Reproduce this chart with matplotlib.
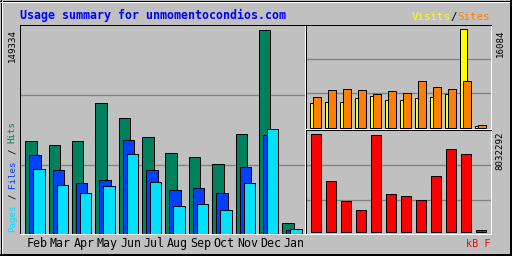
import numpy as np
import matplotlib
matplotlib.use('Agg')
import matplotlib.pyplot as plt
from matplotlib import transforms
from matplotlib.patches import Rectangle

# data
months = ['Feb', 'Mar', 'Apr', 'May', 'Jun', 'Jul', 'Aug', 'Sep', 'Oct', 'Nov', 'Dec', 'Jan']
hits = [67960, 65030, 67960, 95820, 84820, 70890, 59160, 56230, 51100, 73090, 149334, 7840]
files = [57700, 46700, 37170, 39370, 68690, 46700, 32040, 33500, 29840, 48900, 72360, 2710]
pages = [47430, 35700, 29840, 34970, 58430, 37900, 20310, 21770, 17380, 37170, 76760, 3450]
visits = [4025, 4188, 4188, 4840, 5166, 4514, 4514, 4840, 5003, 5492, 16084, 277]
sites = [5003, 6143, 6306, 6143, 5492, 5981, 5655, 7610, 6632, 6306, 7610, 440]
kbytes = [8032292, 4180000, 2541000, 1803000, 7950000, 3115000, 2951000, 2623000, 4590000, 6803000, 6393000, 164000]
title = 'Usage summary for unmomentocondios.com'

BG = '#C0C0C0'
GRID = '#808080'
C_HITS, C_FILES, C_PAGES = '#00805C', '#0040FF', '#00E0FF'
C_VISITS, C_SITES, C_KB = '#FFFF00', '#FF8000', '#FF0000'
MONO = 'DejaVu Sans Mono'
W, H = 512, 256
LW = 0.72  # one pixel at 100 dpi

fig = plt.figure(figsize=(W / 100, H / 100), dpi=100, facecolor=BG)

# pixel-coordinate background layer
bg = fig.add_axes([0, 0, 1, 1], zorder=-1)
bg.set_xlim(0, W)
bg.set_ylim(H, 0)
bg.axis('off')
bg.add_patch(Rectangle((0, 0), W, H, color=BG))
bg.plot([0, W], [0.5, 0.5], color='black', lw=LW)
bg.plot([0.5, 0.5], [0, H], color='black', lw=LW)
bg.plot([1, W - 2], [1.5, 1.5], color='white', lw=LW)
bg.plot([1.5, 1.5], [1, H - 2], color='white', lw=LW)
bg.plot([2, W - 2], [H - 2.5, H - 2.5], color=GRID, lw=LW)
bg.plot([W - 2.5, W - 2.5], [2, H - 2], color=GRID, lw=LW)
bg.plot([0, W], [H - 1, H - 1], color='black', lw=2 * LW)
bg.plot([W - 1, W - 1], [0, H], color='black', lw=2 * LW)


def px_axes(left, top, right, bottom):
    ax = fig.add_axes([left / W, 1 - bottom / H, (right - left) / W, (bottom - top) / H])
    ax.set_facecolor(BG)
    for side in ['left', 'top']:
        ax.spines[side].set_color('black')
    for side in ['right', 'bottom']:
        ax.spines[side].set_color('white')
    for s in ax.spines.values():
        s.set_linewidth(LW)
    ax.set_xticks([])
    ax.set_yticks([])
    return ax


x = np.arange(len(months))

# main chart: hits / files / pages
ax = px_axes(20, 24.5, 304.5, 233.5)
step = 23.36
ax.set_xlim(-15 / step, -15 / step + 284.5 / step)
ymax = max(hits) * 209 / 204
ax.set_ylim(0, ymax)
for f in (0.327, 0.662):
    ax.axhline(ymax * f, color=GRID, lw=LW * 1.3, zorder=0)
bw, off = 11.4 / step, 4 / step
ax.bar(x - off, hits, bw, color=C_HITS, edgecolor='black', lw=LW, zorder=2)
ax.bar(x, files, bw, color=C_FILES, edgecolor='black', lw=LW, zorder=3)
ax.bar(x + off, pages, bw, color=C_PAGES, edgecolor='black', lw=LW, zorder=4)
lab_tr = transforms.blended_transform_factory(ax.transData, bg.transData)
for xi, m in zip(x, months):
    ax.text(xi + 0.09, 246.7, m, transform=lab_tr, ha='center', va='baseline',
            fontsize=8.4, family=MONO, color='black')

# top right: visits / sites
ax2 = px_axes(306, 24.5, 491, 128.5)
ax2.set_xlim(-7.25 / 15, -7.25 / 15 + 185 / 15)
vmax = max(visits) * 104 / 98.7
ax2.set_ylim(-0.5 / 104 * vmax, vmax - 0.5 / 104 * vmax)
for f in (0.332, 0.668):
    ax2.axhline(vmax * f, color=GRID, lw=LW * 1.3, zorder=0)
ax2.bar(x, visits, 7.5 / 15, color=C_VISITS, edgecolor='black', lw=LW, zorder=2)
ax2.bar(x + 3.8 / 15, sites, 7.5 / 15, color=C_SITES, edgecolor='black', lw=LW, zorder=3)

# bottom right: kbytes
ax3 = px_axes(306, 130, 491, 234)
ax3.set_xlim(-9.5 / 15, -9.5 / 15 + 185 / 15)
kmax = max(kbytes) * 104 / 98
ax3.set_ylim(-1.7 / 104 * kmax, kmax - 1.7 / 104 * kmax)
for f in (0.324, 0.660):
    ax3.axhline(kmax * f - 1.7 / 104 * kmax, color=GRID, lw=LW * 1.3, zorder=0)
ax3.bar(x, kbytes, 10 / 15, color=C_KB, edgecolor='black', lw=LW, zorder=2)

# texts
bg.text(19.5, 19.3, title, color='#0000FF', fontsize=8.4, family=MONO,
        weight='bold', va='baseline', ha='left')

adv = 7.8 * 100 / 72 * 0.602
x0 = 490 - 12 * adv
bg.text(x0, 20.3, 'Visits', color=C_VISITS, fontsize=7.8, family=MONO, va='baseline')
bg.text(x0 + 6 * adv, 20.3, '/', color='black', fontsize=7.8, family=MONO, va='baseline')
bg.text(x0 + 7 * adv, 20.3, 'Sites', color=C_SITES, fontsize=7.8, family=MONO, va='baseline')

sadv = 6.6 * 100 / 72 * 0.602
y0 = 231.7
for i, (t, c) in enumerate([('Pages', C_PAGES), ('/', 'black'), ('Files', C_FILES),
                            ('/', 'black'), ('Hits', C_HITS)]):
    pos = [0, 6, 8, 14, 16][i]
    bg.text(12.2, y0 - pos * sadv, t, color=c, fontsize=6.6, family=MONO,
            rotation=90, ha='center', va='bottom')

bg.text(12.2, 29.5, str(max(hits)), color='black', fontsize=6.6, family=MONO,
        rotation=90, ha='center', va='top')
bg.text(500, 29.5, str(max(visits)), color='black', fontsize=6.6, family=MONO,
        rotation=90, ha='center', va='top')
bg.text(500, 131.5, str(max(kbytes)), color='black', fontsize=6.6, family=MONO,
        rotation=90, ha='center', va='top')
bg.text(490, 247.3, 'kB F', color=C_KB, fontsize=7.3, family=MONO,
        ha='right', va='baseline')

fig.savefig('out.png', dpi=100, facecolor=BG)
